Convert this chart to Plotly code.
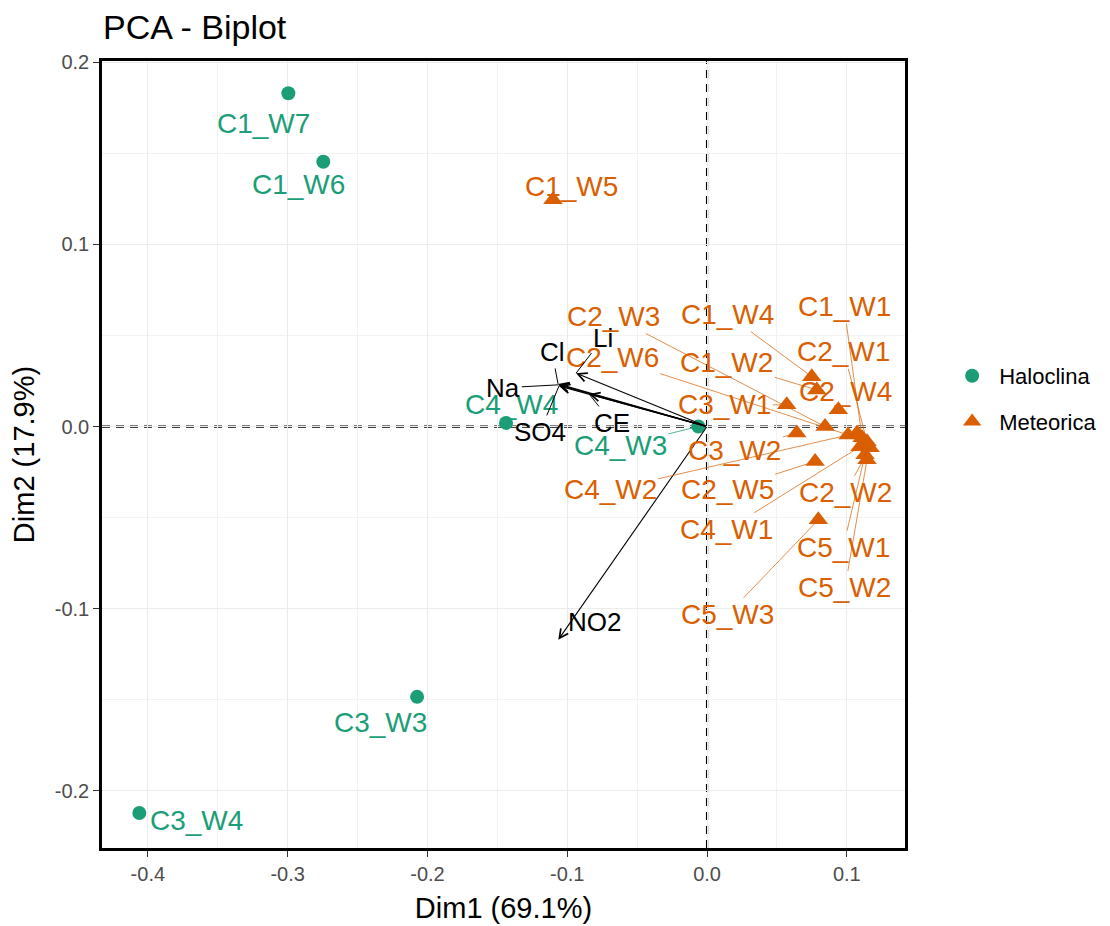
import plotly.graph_objects as go

# --- Individuals (PCA scores on Dim1 / Dim2) ---
halo_names = ["C1_W7", "C1_W6", "C3_W3", "C3_W4", "C4_W4", "C4_W3"]
halo_dim1 = [-0.2995, -0.2745, -0.2074, -0.4061, -0.1438, -0.0062]
halo_dim2 = [0.1830, 0.1454, -0.1484, -0.2122, 0.0020, 0.0000]

met_names = ["C1_W5", "C1_W4", "C1_W2", "C3_W1", "C2_W4", "C2_W3", "C3_W2",
             "C2_W5", "C5_W3", "C2_W6", "C4_W2", "C1_W1", "C2_W1", "C4_W1",
             "C2_W2", "C5_W1", "C5_W2"]
met_dim1 = [-0.1102, 0.0749, 0.0785, 0.0570, 0.0939, 0.0844, 0.0642,
            0.0773, 0.0796, 0.1009, 0.1073, 0.1109, 0.1144, 0.1094,
            0.1166, 0.1130, 0.1144]
met_dim2 = [0.1245, 0.0274, 0.0201, 0.0119, 0.0092, 0.0000, -0.0036,
            -0.0192, -0.0512, -0.0046, -0.0035, -0.0062, -0.0084, -0.0111,
            -0.0117, -0.0155, -0.0183]

# --- Variables (loadings) ---
var_names = ["Na", "Cl", "SO4", "CE", "Li", "NO2"]
var_dim1 = [-0.1064, -0.1066, -0.1059, -0.0844, -0.0937, -0.1064]
var_dim2 = [0.0229, 0.0234, 0.0223, 0.0179, 0.0293, -0.1171]

# --- Axis ticks ---
x_ticks = [-0.4, -0.3, -0.2, -0.1, 0.0, 0.1]
x_ticktext = ["-0.4", "-0.3", "-0.2", "-0.1", "0.0", "0.1"]
y_ticks = [-0.2, -0.1, 0.0, 0.1, 0.2]
y_ticktext = ["-0.2", "-0.1", "0.0", "0.1", "0.2"]

GREEN = "#1B9E77"
ORANGE = "#D95F02"
FONT = "Liberation Sans, Arial, sans-serif"
POINT_LABEL_SIZE = 28
VAR_LABEL_SIZE = 26
LEADER_COLORS = {GREEN: "rgba(27,158,119,0.75)",
                 ORANGE: "rgba(217,95,2,0.7)",
                 "black": "black"}

# Label placement (pixel offsets from the point, repel-style) and whether a
# leader segment is drawn.
halo_label_pos = {
    "C1_W7": (-25, 30, False), "C1_W6": (-25, 23, False),
    "C3_W3": (-37, 26, False), "C3_W4": (57, 7, False),
    "C4_W4": (5, -18, False), "C4_W3": (-78, 19, True),
}
met_label_pos = {
    "C1_W5": (19, -13, False), "C1_W4": (-84, -62, True),
    "C1_W2": (-90, -27, True), "C3_W1": (-62, 0, True),
    "C2_W4": (7, -18, False), "C2_W3": (-212, -110, True),
    "C3_W2": (-62, 17, True), "C2_W5": (-88, 28, True),
    "C5_W3": (-91, 95, True), "C2_W6": (-236, -77, True),
    "C4_W2": (-247, 57, True), "C1_W1": (-18, -131, True),
    "C2_W1": (-23, -90, True), "C4_W1": (-133, 83, True),
    "C2_W2": (-25, 45, True), "C5_W1": (-22, 93, True),
    "C5_W2": (-22, 128, True),
}
var_label_pos = {
    "Na": (-55, 3, True), "Cl": (-6, -32, True), "SO4": (-19, 46, True),
    "CE": (23, 29, True), "Li": (27, -35, True), "NO2": (36, -18, False),
}

fig = go.Figure()

fig.add_trace(go.Scatter(
    x=halo_dim1, y=halo_dim2, mode="markers", name="Haloclina",
    legendgroup="h",
    marker=dict(color=GREEN, size=14, symbol="circle"),
))
fig.add_trace(go.Scatter(
    x=met_dim1, y=met_dim2, mode="markers", name="Meteorica",
    legendgroup="m",
    marker=dict(color=ORANGE, size=17, symbol="triangle-up"),
))

annotations = []

# Variable arrows from the origin
for name, vx, vy in zip(var_names, var_dim1, var_dim2):
    annotations.append(dict(
        x=vx, y=vy, ax=0, ay=0, xref="x", yref="y", axref="x", ayref="y",
        showarrow=True, arrowhead=5, arrowsize=1.6, arrowwidth=1.1,
        arrowcolor="black", standoff=0, text="",
    ))


def add_labels(names, xs, ys, pos, color, size):
    for name, px, py in zip(names, xs, ys):
        dx, dy, leader = pos[name]
        font = dict(family=FONT, size=size, color=color)
        if leader:
            annotations.append(dict(
                x=px, y=py, xref="x", yref="y", ax=dx, ay=dy,
                text=name, showarrow=True, arrowhead=0, arrowwidth=1,
                arrowcolor=LEADER_COLORS[color], standoff=0, font=font,
            ))
        else:
            annotations.append(dict(
                x=px, y=py, xref="x", yref="y", xshift=dx, yshift=-dy,
                text=name, showarrow=False, font=font,
            ))


add_labels(halo_names, halo_dim1, halo_dim2, halo_label_pos, GREEN,
           POINT_LABEL_SIZE)
add_labels(met_names, met_dim1, met_dim2, met_label_pos, ORANGE,
           POINT_LABEL_SIZE)
add_labels(var_names, var_dim1, var_dim2, var_label_pos, "black",
           VAR_LABEL_SIZE)

shapes = [
    dict(type="line", xref="x", yref="paper", x0=0, x1=0, y0=0, y1=1,
         line=dict(color="black", width=2.2, dash="8px,6px"), layer="between"),
    dict(type="line", xref="paper", yref="y", x0=0, x1=1, y0=0, y1=0,
         line=dict(color="black", width=2.2, dash="8px,6px"), layer="between"),
]

axis_common = dict(
    showgrid=True, gridcolor="#EBEBEB", gridwidth=1.4, automargin=False,
    zeroline=False, showline=True, linecolor="black", linewidth=2.5,
    mirror=True, ticks="outside", ticklen=6, tickwidth=1.4,
    tickcolor="#333333", tickfont=dict(family=FONT, size=20, color="#4D4D4D"),
)

fig.update_layout(
    width=1110, height=926, autosize=False,
    margin=dict(l=102, r=205, t=61, b=78, autoexpand=False),
    plot_bgcolor="white", paper_bgcolor="white",
    title=dict(text="PCA - Biplot", x=103 / 1110, xanchor="left",
               xref="container", yref="container", y=1 - 27 / 926,
               yanchor="middle",
               font=dict(family=FONT, size=34, color="black")),
    xaxis=dict(
        range=[-0.4328, 0.1416], tickvals=x_ticks, ticktext=x_ticktext,
        minor=dict(dtick=0.05, tick0=0, showgrid=True, gridcolor="#F2F2F2",
                   gridwidth=1, ticks=""),
        title=dict(text="Dim1 (69.1%)", standoff=14,
                   font=dict(family=FONT, size=29, color="black")),
        **axis_common,
    ),
    yaxis=dict(
        range=[-0.2314, 0.2007], tickvals=y_ticks, ticktext=y_ticktext,
        minor=dict(dtick=0.05, tick0=0, showgrid=True, gridcolor="#F2F2F2",
                   gridwidth=1, ticks=""),
        title=dict(text="Dim2 (17.9%)", standoff=12,
                   font=dict(family=FONT, size=29, color="black")),
        **axis_common,
    ),
    legend=dict(x=1.05, y=0.5705, xanchor="left", yanchor="middle",
                font=dict(family=FONT, size=22, color="black"),
                itemwidth=44, tracegroupgap=14, bgcolor="rgba(0,0,0,0)"),
    annotations=annotations,
    shapes=shapes,
)

fig.write_html("out.html")
